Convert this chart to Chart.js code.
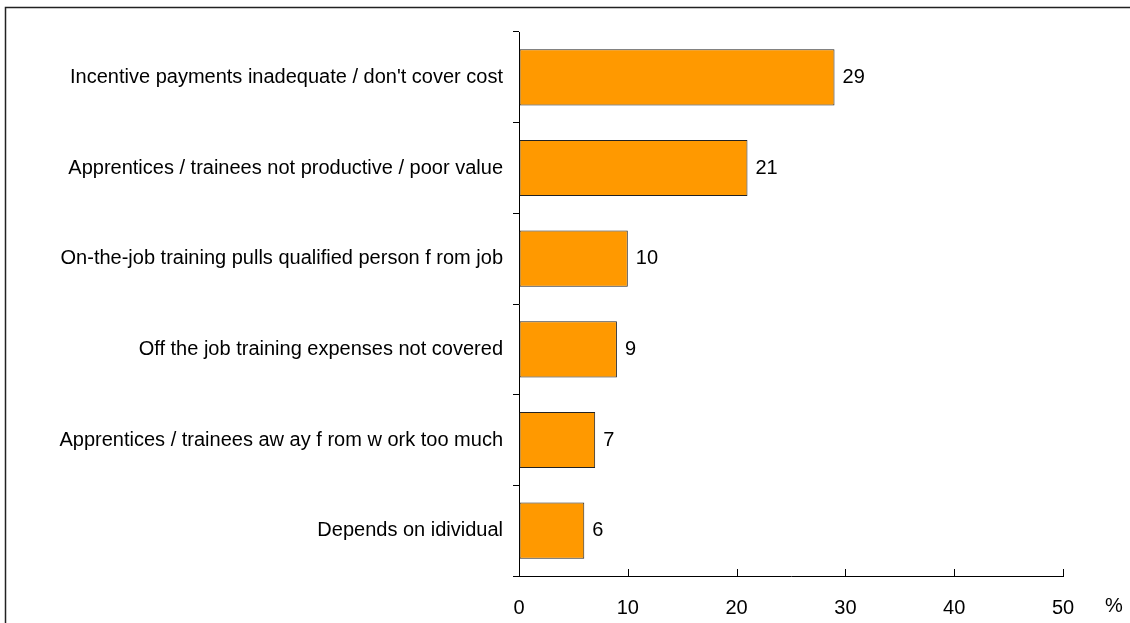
<!DOCTYPE html>
<html lang="en">
<head>
    <meta charset="UTF-8">
    <script src="https://cdn.jsdelivr.net/npm/chart.js"></script>
    <title>Barriers</title>
    <style>
        html, body { margin: 0; padding: 0; background: #fff; }
        #wrap { width: 1130px; height: 623px; }
    </style>
</head>
<body>
    <div id="wrap"><canvas id="myChart" width="1130" height="623"></canvas></div>

<script>
    const motivos = [
        "Incentive payments inadequate / don't cover cost",
        "Apprentices / trainees not productive / poor value",
        "On-the-job training pulls qualified person f rom job",
        "Off the job training expenses not covered",
        "Apprentices / trainees aw ay f rom w ork too much",
        "Depends on idividual"
    ]
    const percentuais = [29, 21, 10, 9, 7, 6]
    const ticksX = [0, 10, 20, 30, 40, 50]

    const fonte = "'Liberation Sans', Arial, sans-serif"

    // moldura, ticks internos do eixo x, rotulos de valor e o "%"
    const extras = {
        id: 'extras',
        afterDraw(chart) {
            const ctx = chart.ctx
            const x = chart.scales.x
            const area = chart.chartArea
            ctx.save()

            ctx.strokeStyle = '#222'
            ctx.lineWidth = 1.5
            ctx.beginPath()
            ctx.moveTo(5.5, 623)
            ctx.lineTo(5.5, 7.5)
            ctx.lineTo(1130, 7.5)
            ctx.stroke()

            ctx.strokeStyle = '#000'
            ctx.lineWidth = 1
            ticksX.forEach(v => {
                const px = Math.round(x.getPixelForValue(v)) + 0.5
                ctx.beginPath()
                ctx.moveTo(px, area.bottom)
                ctx.lineTo(px, area.bottom - 7)
                ctx.stroke()
            })

            ctx.fillStyle = '#000'
            ctx.font = '20px ' + fonte
            ctx.textBaseline = 'middle'
            ctx.textAlign = 'left'
            const meta = chart.getDatasetMeta(0)
            meta.data.forEach((bar, i) => {
                ctx.fillText(String(percentuais[i]), bar.x + 8, bar.y)
            })

            ctx.fillText('%', x.right + 42, area.bottom + 30)
            ctx.restore()
        }
    }

    new Chart(document.getElementById('myChart'), {
        type: 'bar',
        data: {
            labels: motivos,
            datasets: [{
                data: percentuais,
                backgroundColor: '#FF9900',
                borderColor: '#222',
                borderWidth: 1,
                borderSkipped: false,
                categoryPercentage: 1,
                barPercentage: 0.62
            }]
        },
        options: {
            indexAxis: 'y',
            responsive: false,
            animation: false,
            devicePixelRatio: 1,
            layout: { padding: { top: 32, right: 67, left: 0, bottom: 0 } },
            plugins: {
                legend: { display: false },
                tooltip: { enabled: false }
            },
            scales: {
                x: {
                    min: 0,
                    max: 50,
                    afterBuildTicks: (s) => { s.ticks = ticksX.map(v => ({ value: v })) },
                    afterFit: (s) => { s.height = 47 },
                    grid: { display: true, drawOnChartArea: false, drawTicks: false },
                    border: { color: '#000', width: 1 },
                    ticks: {
                        color: '#000',
                        padding: 20,
                        maxRotation: 0,
                        font: { family: fonte, size: 20 }
                    }
                },
                y: {
                    afterFit: (s) => { s.width = 519 },
                    offset: true,
                    grid: { offset: true, drawOnChartArea: false, tickLength: 6, color: '#000' },
                    border: { color: '#000', width: 1 },
                    ticks: {
                        color: '#000',
                        padding: 10,
                        font: { family: fonte, size: 20 }
                    }
                }
            }
        },
        plugins: [extras]
    });
</script>
</body>
</html>
